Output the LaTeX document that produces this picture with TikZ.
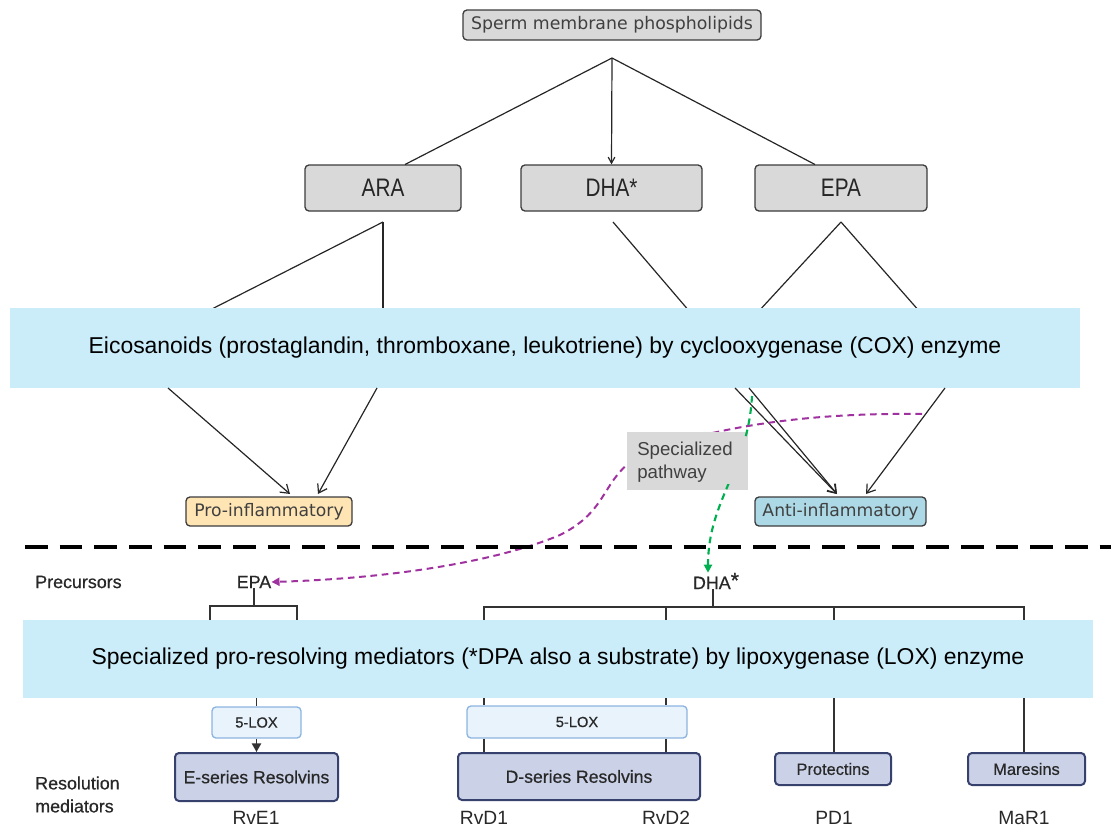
\documentclass[tikz,border=0pt]{standalone}
\usepackage{fontspec}
\setmainfont{Liberation Sans}
\newfontfamily\dejavu{DejaVu Sans}
\newfontfamily\condfont[FakeStretch=0.82]{Liberation Sans}
\newfontfamily\medfont[FakeBold=0.6]{Liberation Sans}
\usetikzlibrary{arrows.meta}
\definecolor{boxgray}{RGB}{217,217,217}
\definecolor{edgegray}{RGB}{60,60,60}
\definecolor{txtgray}{RGB}{64,64,64}
\definecolor{bannerblue}{RGB}{203,237,250}
\definecolor{proorange}{RGB}{255,229,180}
\definecolor{antiblue}{RGB}{173,216,230}
\definecolor{loxfill}{RGB}{232,243,252}
\definecolor{loxedge}{RGB}{140,180,225}
\definecolor{resfill}{RGB}{203,210,232}
\definecolor{resedge}{RGB}{55,65,110}
\definecolor{purp}{RGB}{160,50,160}
\definecolor{grn}{RGB}{0,176,80}
\definecolor{darktxt}{RGB}{40,40,40}
\begin{document}
\begin{tikzpicture}[x=0.75pt,y=-0.75pt,
  graybox/.style={draw=edgegray, fill=boxgray, rounded corners=3pt, line width=1pt, inner sep=0pt},
  topbox/.style={graybox, font=\condfont\fontsize{19pt}{22pt}\selectfont, text=black!85, minimum height=34.5pt},
  banner/.style={fill=bannerblue, inner sep=0pt, minimum width=802.5pt, font=\fontsize{17.2pt}{20pt}\selectfont},
  tagbox/.style={draw=edgegray, rounded corners=3pt, line width=1pt, inner sep=0pt, minimum height=21.75pt, text=txtgray, font=\dejavu\fontsize{12.9pt}{15pt}\selectfont},
  conn/.style={line width=0.9pt, draw=black!85},
  arr/.style={conn, -{Straight Barb[length=6pt,width=8pt]}},
  bracket/.style={line width=1.1pt, draw=black!80},
  loxbox/.style={draw=loxedge, fill=loxfill, rounded corners=3pt, line width=1pt, inner sep=0pt, text=darktxt, font=\medfont\fontsize{11pt}{13pt}\selectfont},
  resbox/.style={draw=resedge, fill=resfill, rounded corners=3pt, line width=1.5pt, inner sep=0pt, text=darktxt, font=\medfont\fontsize{13.2pt}{15pt}\selectfont},
  lbl/.style={inner sep=0pt, text=darktxt, font=\medfont\fontsize{13.4pt}{15pt}\selectfont},
  molbl/.style={inner sep=0pt, text=darktxt, font=\fontsize{14.4pt}{16pt}\selectfont}]
\useasboundingbox (0,0) rectangle (1111,828);

% top
\node[graybox, minimum width=223.5pt, minimum height=22.5pt, text=txtgray, font=\dejavu\fontsize{13pt}{15pt}\selectfont] (sperm) at (612,25) {Sperm membrane phospholipids};
\node[topbox, minimum width=117pt] (ara) at (383,188) {ARA};
\node[topbox, minimum width=135.75pt] (dha) at (611.5,188) {DHA*};
\node[topbox, minimum width=129pt] (epa) at (841,188) {EPA};

\coordinate (br) at (612,58);
\draw[conn] (br) -- (405,164.5);
\draw[conn] (br) -- (815,164.5);
\draw[conn, -{Straight Barb[length=4.5pt,width=5pt]}] (br) -- (dha.north);

% lines to banner 1
\coordinate (araB) at (383,222);
\coordinate (dhaB) at (613,222);
\coordinate (epaB) at (841,222);
\coordinate (b1a) at (206,312);
\coordinate (b1b) at (383,312);
\coordinate (b1c) at (690,312);
\coordinate (b1d) at (758,312);
\coordinate (b1e) at (920,312);
\draw[conn] (araB) -- (b1a);
\draw[conn] (araB) -- (b1b);
\draw[conn] (dhaB) -- (b1c);
\draw[conn] (epaB) -- (b1d);
\draw[conn] (epaB) -- (b1e);

\node[banner, minimum height=60pt] (ban1) at (545,348) {Eicosanoids (prostaglandin, thromboxane, leukotriene) by cyclooxygenase (COX) enzyme};

\node[tagbox, fill=proorange, minimum width=124.5pt] (pro) at (269,511.5) {Pro-inflammatory};
\node[tagbox, fill=antiblue, minimum width=128.25pt] (anti) at (840.5,511.5) {Anti-inflammatory};

\coordinate (c1) at (168,388);
\coordinate (c2) at (377,388);
\coordinate (c3) at (735,388);
\coordinate (c4) at (749,388);
\coordinate (c5) at (945,388);
\coordinate (p1) at (290,494);
\coordinate (p2) at (318,494);
\coordinate (a1) at (837,494);
\coordinate (a2) at (866,494);
\draw[arr] (c1) -- (p1);
\draw[arr] (c2) -- (p2);
\draw[arr] (c3) -- (a1);
\draw[arr] (c4) -- (a1);
\draw[arr] (c5) -- (a2);

% bottom precursor labels
\node[lbl, anchor=west] (prec) at (35,582) {Precursors};
\node[lbl] (epa2) at (254,582) {EPA};
\node[lbl] (dha2) at (716,581) {DHA\raisebox{1pt}{\fontsize{16pt}{16pt}\selectfont *}};

% specialized pathway curves
\coordinate (gs) at (752,396);
\coordinate (ps) at (922,414);
\draw[purp, line width=1.5pt, dash pattern=on 5pt off 3.5pt, -{Triangle[length=6pt,width=6pt]}]
  (ps) .. controls (780,412) and (690,435) .. (640,455)
  .. controls (600,480) and (610,510) .. (560,535)
  .. controls (500,560) and (400,578) .. (epa2.east);
\node[fill=boxgray, minimum width=90.75pt, minimum height=43.5pt, inner sep=0pt] (spec) at (687.5,461) {};
\draw[grn, line width=1.6pt, dash pattern=on 5pt off 3.5pt, -{Triangle[length=6pt,width=6pt]}]
  (gs) .. controls (748,470) and (708,500) .. (dha2.north -| 708,0);
\fill[boxgray] (700,440) rectangle (746,484);
\node[anchor=west, align=left, inner sep=0pt, text=txtgray, font=\fontsize{14pt}{17pt}\selectfont] (spectxt) at (637,462) {Specialized\\pathway};

% thick dashed separator
\coordinate (sepL) at (25,547);
\coordinate (sepR) at (1111,547);
\draw[line width=3.2pt, dash pattern=on 17pt off 9pt] (sepL) -- (sepR);

% brackets
\draw[bracket] (epa2.south) -- (254,606);
\draw[bracket] (210,623) -- (210,606) -- (297,606) -- (297,623);
\draw[bracket] (dha2.south -| 713,0) -- (713,607);
\draw[bracket] (484,623) -- (484,607) -- (1024,607) -- (1024,623);
\draw[bracket] (666,607) -- (666,623);
\draw[bracket] (834,607) -- (834,623);

\node[banner, minimum height=58.5pt] (ban2) at (558,659) {Specialized pro-resolving mediators (*DPA also a substrate) by lipoxygenase (LOX) enzyme};

% lower boxes
\node[loxbox, minimum width=66.75pt, minimum height=23.25pt] (lox1) at (256.5,722.5) {5-LOX};
\node[resbox, minimum width=122.25pt, minimum height=36pt] (eres) at (256.5,777) {E-series Resolvins};
\node[loxbox, minimum width=165pt, minimum height=24pt] (lox2) at (577,722) {5-LOX};
\node[resbox, minimum width=181.5pt, minimum height=35.25pt] (dres) at (579,776.5) {D-series Resolvins};
\node[resbox, minimum width=87pt, minimum height=24pt, font=\medfont\fontsize{12.3pt}{14pt}\selectfont] (prot) at (833,769) {Protectins};
\node[resbox, minimum width=87.75pt, minimum height=24pt, font=\medfont\fontsize{12.3pt}{14pt}\selectfont] (mar) at (1026.5,769) {Maresins};

\draw[bracket] (ban2.south -| lox1.north) -- (lox1.north);
\draw[bracket, -{Triangle[length=6.5pt,width=7pt]}] (lox1.south) -- (eres.north);
\draw[bracket] (ban2.south -| 484,0) -- (lox2.north -| 484,0);
\draw[bracket] (ban2.south -| 666,0) -- (lox2.north -| 666,0);
\draw[bracket] (lox2.south -| 484,0) -- (dres.north -| 484,0);
\draw[bracket] (lox2.south -| 666,0) -- (dres.north -| 666,0);
\draw[bracket] (ban2.south -| 834,0) -- (prot.north -| 834,0);
\draw[bracket] (ban2.south -| 1024,0) -- (mar.north -| 1024,0);

\node[molbl] (rve1) at (256,818) {RvE1};
\node[molbl] (rvd1) at (484,818) {RvD1};
\node[molbl] (rvd2) at (666,818) {RvD2};
\node[molbl] (pd1) at (834,818) {PD1};
\node[molbl] (mar1) at (1024,818) {MaR1};
\node[lbl, anchor=west] (res1) at (35,783) {Resolution};
\node[lbl, anchor=west] (res2) at (35,806) {mediators};
\end{tikzpicture}
\end{document}
